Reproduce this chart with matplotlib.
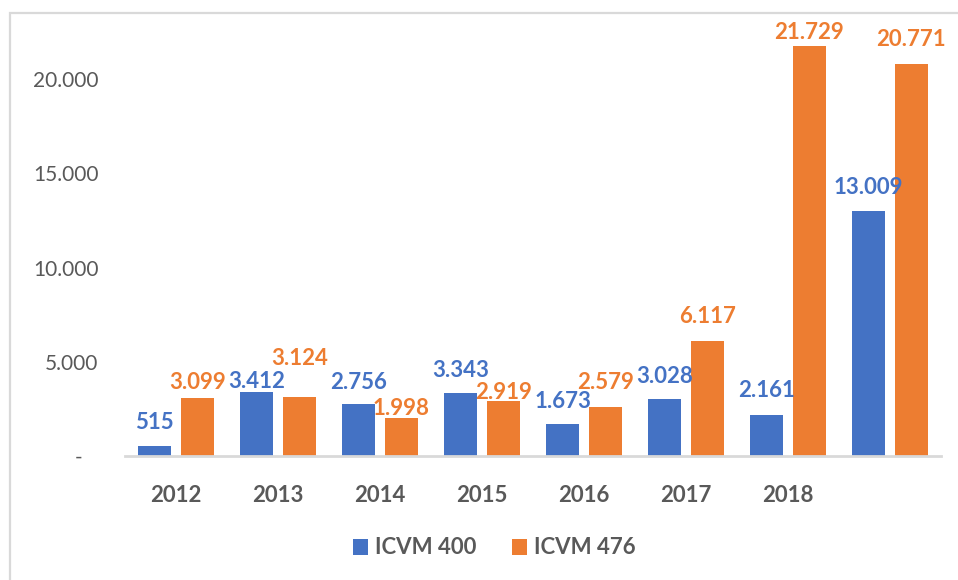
import numpy as np
import matplotlib.pyplot as plt
from matplotlib.patches import Rectangle

years = ["2012", "2013", "2014", "2015", "2016", "2017", "2018", ""]
icvm400 = [515, 3412, 2756, 3343, 1673, 3028, 2161, 13009]
icvm476 = [3099, 3124, 1998, 2919, 2579, 6117, 21729, 20771]

# gap (px) between bar top and its label, Excel shifts some of them
gap400 = [17, 4, 15, 16, 16, 16, 18, 17]
gap476 = [9, 32, 3, 2, 18, 18, 7, 18]

blue = "#4472C4"
orange = "#ED7D31"
grey = "#595959"

plt.rcParams['font.family'] = ['Lato', 'DejaVu Sans']

W, H = 958, 580
fig = plt.figure(figsize=(W/100, H/100), dpi=100)
# axes box in pixels: left 125, right 941, baseline 456
top_px = 456 - 22000*(456-79)/20000
ax = fig.add_axes([125/W, 1-456/H, (941-125)/W, (456-top_px)/H])

# outer chart frame (continues past the right and bottom edges)
fig.patches.append(Rectangle((10/W, -0.1), 1.2, 1-13/H+0.1, transform=fig.transFigure,
                             fill=False, edgecolor="#D9D9D9", lw=1.6))

x = np.arange(len(years))
w = 0.33
off = 0.21
ax.bar(x-off, icvm400, w, color=blue, label="ICVM 400")
ax.bar(x+off, icvm476, w, color=orange, label="ICVM 476")

for i in range(len(x)):
    ax.annotate(f"{icvm400[i]:,}".replace(",", "."), (x[i]-off, icvm400[i]),
                xytext=(0, gap400[i]*0.72), textcoords="offset points",
                ha="center", va="baseline", fontsize=16, fontweight="bold",
                color=blue, annotation_clip=False)
    ax.annotate(f"{icvm476[i]:,}".replace(",", "."), (x[i]+off, icvm476[i]),
                xytext=(0, gap476[i]*0.72), textcoords="offset points",
                ha="center", va="baseline", fontsize=16, fontweight="bold",
                color=orange, annotation_clip=False)

ax.set_xlim(-0.5, len(years)-0.5)
ax.set_ylim(0, 22000)
ax.set_yticks([0, 5000, 10000, 15000, 20000])
ax.set_yticklabels(["-   ", "5.000", "10.000", "15.000", "20.000"])
ax.set_xticks(x)
ax.set_xticklabels(years, fontweight="bold")
ax.tick_params(axis="y", length=0, pad=19, labelsize=15, labelcolor=grey)
ax.tick_params(axis="x", length=0, pad=21, labelsize=16, labelcolor=grey)

for s in ["top", "right", "left"]:
    ax.spines[s].set_visible(False)
ax.spines["bottom"].set_color("#D9D9D9")
ax.spines["bottom"].set_linewidth(2)

leg = fig.legend(loc="center", bbox_to_anchor=(494/W, 1-548/H), ncol=2, frameon=False,
                 prop={"size": 16, "weight": "bold"}, handlelength=0.7, handleheight=0.7,
                 handletextpad=0.3, columnspacing=1.6)
for t in leg.get_texts():
    t.set_color(grey)

fig.savefig("out.png", dpi=100)
